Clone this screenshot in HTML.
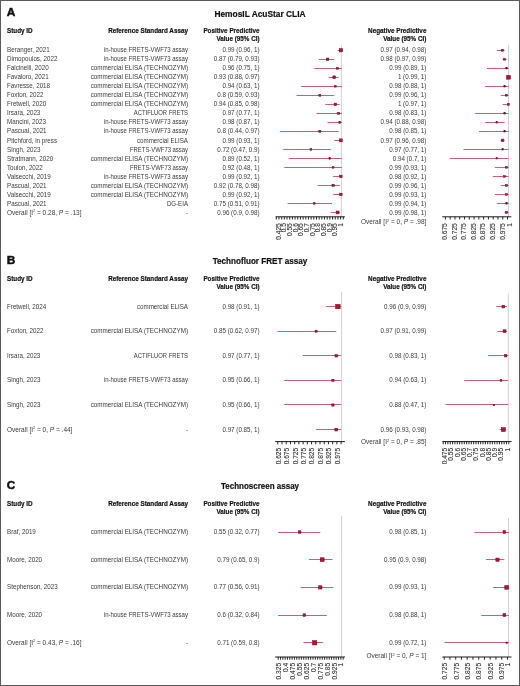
<!DOCTYPE html>
<html><head><meta charset="utf-8"><title>Forest plots</title>
<style>
html,body{margin:0;padding:0;background:#fff;}
body{width:520px;height:686px;overflow:hidden;}
.frame{position:absolute;left:0;top:0;width:518px;height:684px;border:1px solid #5a5a5a;background:#fff;}
svg{position:absolute;left:0;top:0;font-family:"Liberation Sans", sans-serif;will-change:transform;}
</style></head>
<body>
<div class="frame"></div>
<svg width="520" height="686" viewBox="0 0 520 686">
<text transform="translate(6.70,16.20) scale(1.12,1)" font-size="10.6" text-anchor="start" font-weight="bold" fill="#111" stroke="#111" stroke-width="0.45">A</text>
<text transform="translate(260.00,16.60) scale(1.0,1)" font-size="9.0" text-anchor="middle" font-weight="bold" fill="#111" stroke="#111" stroke-width="0.2" textLength="91.20" lengthAdjust="spacingAndGlyphs">HemosIL AcuStar CLIA</text>
<text transform="translate(7.00,32.70) scale(0.96,1)" font-size="6.6" text-anchor="start" font-weight="bold" fill="#111"  stroke="#111" stroke-width="0.18">Study ID</text>
<text transform="translate(188.00,32.70) scale(0.96,1)" font-size="6.6" text-anchor="end" font-weight="bold" fill="#111"  stroke="#111" stroke-width="0.18">Reference Standard Assay</text>
<text transform="translate(259.60,33.00) scale(0.96,1)" font-size="6.6" text-anchor="end" font-weight="bold" fill="#111"  stroke="#111" stroke-width="0.18">Positive Predictive</text>
<text transform="translate(259.60,40.80) scale(0.96,1)" font-size="6.6" text-anchor="end" font-weight="bold" fill="#111"  stroke="#111" stroke-width="0.18">Value (95% CI)</text>
<text transform="translate(426.40,33.00) scale(0.96,1)" font-size="6.6" text-anchor="end" font-weight="bold" fill="#111"  stroke="#111" stroke-width="0.18">Negative Predictive</text>
<text transform="translate(426.40,40.80) scale(0.96,1)" font-size="6.6" text-anchor="end" font-weight="bold" fill="#111"  stroke="#111" stroke-width="0.18">Value (95% CI)</text>
<text transform="translate(7.00,52.40) scale(0.935,1)" font-size="6.7" text-anchor="start" font-weight="normal" fill="#3a3a3a" >Beranger, 2021</text>
<text transform="translate(188.00,52.40) scale(0.935,1)" font-size="6.7" text-anchor="end" font-weight="normal" fill="#3a3a3a"  textLength="90.05" lengthAdjust="spacingAndGlyphs">in-house FRETS-VWF73 assay</text>
<text transform="translate(259.60,52.40) scale(0.935,1)" font-size="6.7" text-anchor="end" font-weight="normal" fill="#3a3a3a" >0.99 (0.96, 1)</text>
<text transform="translate(426.40,52.40) scale(0.935,1)" font-size="6.7" text-anchor="end" font-weight="normal" fill="#3a3a3a" >0.97 (0.94, 0.98)</text>
<text transform="translate(7.00,61.41) scale(0.935,1)" font-size="6.7" text-anchor="start" font-weight="normal" fill="#3a3a3a" >Dimopoulos, 2022</text>
<text transform="translate(188.00,61.41) scale(0.935,1)" font-size="6.7" text-anchor="end" font-weight="normal" fill="#3a3a3a"  textLength="90.05" lengthAdjust="spacingAndGlyphs">in-house FRETS-VWF73 assay</text>
<text transform="translate(259.60,61.41) scale(0.935,1)" font-size="6.7" text-anchor="end" font-weight="normal" fill="#3a3a3a" >0.87 (0.79, 0.93)</text>
<text transform="translate(426.40,61.41) scale(0.935,1)" font-size="6.7" text-anchor="end" font-weight="normal" fill="#3a3a3a" >0.98 (0.97, 0.99)</text>
<text transform="translate(7.00,70.42) scale(0.935,1)" font-size="6.7" text-anchor="start" font-weight="normal" fill="#3a3a3a" >Falcinelli, 2020</text>
<text transform="translate(188.00,70.42) scale(0.935,1)" font-size="6.7" text-anchor="end" font-weight="normal" fill="#3a3a3a"  textLength="104.06" lengthAdjust="spacingAndGlyphs">commercial ELISA (TECHNOZYM)</text>
<text transform="translate(259.60,70.42) scale(0.935,1)" font-size="6.7" text-anchor="end" font-weight="normal" fill="#3a3a3a" >0.96 (0.75, 1)</text>
<text transform="translate(426.40,70.42) scale(0.935,1)" font-size="6.7" text-anchor="end" font-weight="normal" fill="#3a3a3a" >0.99 (0.89, 1)</text>
<text transform="translate(7.00,79.43) scale(0.935,1)" font-size="6.7" text-anchor="start" font-weight="normal" fill="#3a3a3a" >Favaloro, 2021</text>
<text transform="translate(188.00,79.43) scale(0.935,1)" font-size="6.7" text-anchor="end" font-weight="normal" fill="#3a3a3a"  textLength="104.06" lengthAdjust="spacingAndGlyphs">commercial ELISA (TECHNOZYM)</text>
<text transform="translate(259.60,79.43) scale(0.935,1)" font-size="6.7" text-anchor="end" font-weight="normal" fill="#3a3a3a" >0.93 (0.88, 0.97)</text>
<text transform="translate(426.40,79.43) scale(0.935,1)" font-size="6.7" text-anchor="end" font-weight="normal" fill="#3a3a3a" >1 (0.99, 1)</text>
<text transform="translate(7.00,88.44) scale(0.935,1)" font-size="6.7" text-anchor="start" font-weight="normal" fill="#3a3a3a" >Favresse, 2018</text>
<text transform="translate(188.00,88.44) scale(0.935,1)" font-size="6.7" text-anchor="end" font-weight="normal" fill="#3a3a3a"  textLength="104.06" lengthAdjust="spacingAndGlyphs">commercial ELISA (TECHNOZYM)</text>
<text transform="translate(259.60,88.44) scale(0.935,1)" font-size="6.7" text-anchor="end" font-weight="normal" fill="#3a3a3a" >0.94 (0.63, 1)</text>
<text transform="translate(426.40,88.44) scale(0.935,1)" font-size="6.7" text-anchor="end" font-weight="normal" fill="#3a3a3a" >0.98 (0.88, 1)</text>
<text transform="translate(7.00,97.45) scale(0.935,1)" font-size="6.7" text-anchor="start" font-weight="normal" fill="#3a3a3a" >Foxton, 2022</text>
<text transform="translate(188.00,97.45) scale(0.935,1)" font-size="6.7" text-anchor="end" font-weight="normal" fill="#3a3a3a"  textLength="104.06" lengthAdjust="spacingAndGlyphs">commercial ELISA (TECHNOZYM)</text>
<text transform="translate(259.60,97.45) scale(0.935,1)" font-size="6.7" text-anchor="end" font-weight="normal" fill="#3a3a3a" >0.8 (0.59, 0.93)</text>
<text transform="translate(426.40,97.45) scale(0.935,1)" font-size="6.7" text-anchor="end" font-weight="normal" fill="#3a3a3a" >0.99 (0.96, 1)</text>
<text transform="translate(7.00,106.46) scale(0.935,1)" font-size="6.7" text-anchor="start" font-weight="normal" fill="#3a3a3a" >Fretwell, 2020</text>
<text transform="translate(188.00,106.46) scale(0.935,1)" font-size="6.7" text-anchor="end" font-weight="normal" fill="#3a3a3a"  textLength="104.06" lengthAdjust="spacingAndGlyphs">commercial ELISA (TECHNOZYM)</text>
<text transform="translate(259.60,106.46) scale(0.935,1)" font-size="6.7" text-anchor="end" font-weight="normal" fill="#3a3a3a" >0.94 (0.85, 0.98)</text>
<text transform="translate(426.40,106.46) scale(0.935,1)" font-size="6.7" text-anchor="end" font-weight="normal" fill="#3a3a3a" >1 (0.97, 1)</text>
<text transform="translate(7.00,115.47) scale(0.935,1)" font-size="6.7" text-anchor="start" font-weight="normal" fill="#3a3a3a" >Irsara, 2023</text>
<text transform="translate(188.00,115.47) scale(0.935,1)" font-size="6.7" text-anchor="end" font-weight="normal" fill="#3a3a3a"  textLength="57.97" lengthAdjust="spacingAndGlyphs">ACTIFLUOR FRETS</text>
<text transform="translate(259.60,115.47) scale(0.935,1)" font-size="6.7" text-anchor="end" font-weight="normal" fill="#3a3a3a" >0.97 (0.77, 1)</text>
<text transform="translate(426.40,115.47) scale(0.935,1)" font-size="6.7" text-anchor="end" font-weight="normal" fill="#3a3a3a" >0.98 (0.83, 1)</text>
<text transform="translate(7.00,124.48) scale(0.935,1)" font-size="6.7" text-anchor="start" font-weight="normal" fill="#3a3a3a" >Mancini, 2023</text>
<text transform="translate(188.00,124.48) scale(0.935,1)" font-size="6.7" text-anchor="end" font-weight="normal" fill="#3a3a3a"  textLength="90.05" lengthAdjust="spacingAndGlyphs">in-house FRETS-VWF73 assay</text>
<text transform="translate(259.60,124.48) scale(0.935,1)" font-size="6.7" text-anchor="end" font-weight="normal" fill="#3a3a3a" >0.98 (0.87, 1)</text>
<text transform="translate(426.40,124.48) scale(0.935,1)" font-size="6.7" text-anchor="end" font-weight="normal" fill="#3a3a3a" >0.94 (0.88, 0.98)</text>
<text transform="translate(7.00,133.49) scale(0.935,1)" font-size="6.7" text-anchor="start" font-weight="normal" fill="#3a3a3a" >Pascual, 2021</text>
<text transform="translate(188.00,133.49) scale(0.935,1)" font-size="6.7" text-anchor="end" font-weight="normal" fill="#3a3a3a"  textLength="90.05" lengthAdjust="spacingAndGlyphs">in-house FRETS-VWF73 assay</text>
<text transform="translate(259.60,133.49) scale(0.935,1)" font-size="6.7" text-anchor="end" font-weight="normal" fill="#3a3a3a" >0.8 (0.44, 0.97)</text>
<text transform="translate(426.40,133.49) scale(0.935,1)" font-size="6.7" text-anchor="end" font-weight="normal" fill="#3a3a3a" >0.98 (0.85, 1)</text>
<text transform="translate(7.00,142.50) scale(0.935,1)" font-size="6.7" text-anchor="start" font-weight="normal" fill="#3a3a3a" >Pitchford, in press</text>
<text transform="translate(188.00,142.50) scale(0.935,1)" font-size="6.7" text-anchor="end" font-weight="normal" fill="#3a3a3a"  textLength="54.65" lengthAdjust="spacingAndGlyphs">commercial ELISA</text>
<text transform="translate(259.60,142.50) scale(0.935,1)" font-size="6.7" text-anchor="end" font-weight="normal" fill="#3a3a3a" >0.99 (0.93, 1)</text>
<text transform="translate(426.40,142.50) scale(0.935,1)" font-size="6.7" text-anchor="end" font-weight="normal" fill="#3a3a3a" >0.97 (0.96, 0.98)</text>
<text transform="translate(7.00,151.51) scale(0.935,1)" font-size="6.7" text-anchor="start" font-weight="normal" fill="#3a3a3a" >Singh, 2023</text>
<text transform="translate(188.00,151.51) scale(0.935,1)" font-size="6.7" text-anchor="end" font-weight="normal" fill="#3a3a3a"  textLength="62.03" lengthAdjust="spacingAndGlyphs">FRETS-VWF73 assay</text>
<text transform="translate(259.60,151.51) scale(0.935,1)" font-size="6.7" text-anchor="end" font-weight="normal" fill="#3a3a3a" >0.72 (0.47, 0.9)</text>
<text transform="translate(426.40,151.51) scale(0.935,1)" font-size="6.7" text-anchor="end" font-weight="normal" fill="#3a3a3a" >0.97 (0.77, 1)</text>
<text transform="translate(7.00,160.52) scale(0.935,1)" font-size="6.7" text-anchor="start" font-weight="normal" fill="#3a3a3a" >Stratmann, 2020</text>
<text transform="translate(188.00,160.52) scale(0.935,1)" font-size="6.7" text-anchor="end" font-weight="normal" fill="#3a3a3a"  textLength="104.06" lengthAdjust="spacingAndGlyphs">commercial ELISA (TECHNOZYM)</text>
<text transform="translate(259.60,160.52) scale(0.935,1)" font-size="6.7" text-anchor="end" font-weight="normal" fill="#3a3a3a" >0.89 (0.52, 1)</text>
<text transform="translate(426.40,160.52) scale(0.935,1)" font-size="6.7" text-anchor="end" font-weight="normal" fill="#3a3a3a" >0.94 (0.7, 1)</text>
<text transform="translate(7.00,169.53) scale(0.935,1)" font-size="6.7" text-anchor="start" font-weight="normal" fill="#3a3a3a" >Toulon, 2022</text>
<text transform="translate(188.00,169.53) scale(0.935,1)" font-size="6.7" text-anchor="end" font-weight="normal" fill="#3a3a3a"  textLength="62.03" lengthAdjust="spacingAndGlyphs">FRETS-VWF73 assay</text>
<text transform="translate(259.60,169.53) scale(0.935,1)" font-size="6.7" text-anchor="end" font-weight="normal" fill="#3a3a3a" >0.92 (0.48, 1)</text>
<text transform="translate(426.40,169.53) scale(0.935,1)" font-size="6.7" text-anchor="end" font-weight="normal" fill="#3a3a3a" >0.99 (0.93, 1)</text>
<text transform="translate(7.00,178.54) scale(0.935,1)" font-size="6.7" text-anchor="start" font-weight="normal" fill="#3a3a3a" >Valsecchi, 2019</text>
<text transform="translate(188.00,178.54) scale(0.935,1)" font-size="6.7" text-anchor="end" font-weight="normal" fill="#3a3a3a"  textLength="90.05" lengthAdjust="spacingAndGlyphs">in-house FRETS-VWF73 assay</text>
<text transform="translate(259.60,178.54) scale(0.935,1)" font-size="6.7" text-anchor="end" font-weight="normal" fill="#3a3a3a" >0.99 (0.92, 1)</text>
<text transform="translate(426.40,178.54) scale(0.935,1)" font-size="6.7" text-anchor="end" font-weight="normal" fill="#3a3a3a" >0.98 (0.92, 1)</text>
<text transform="translate(7.00,187.55) scale(0.935,1)" font-size="6.7" text-anchor="start" font-weight="normal" fill="#3a3a3a" >Pascual, 2021</text>
<text transform="translate(188.00,187.55) scale(0.935,1)" font-size="6.7" text-anchor="end" font-weight="normal" fill="#3a3a3a"  textLength="104.06" lengthAdjust="spacingAndGlyphs">commercial ELISA (TECHNOZYM)</text>
<text transform="translate(259.60,187.55) scale(0.935,1)" font-size="6.7" text-anchor="end" font-weight="normal" fill="#3a3a3a" >0.92 (0.78, 0.98)</text>
<text transform="translate(426.40,187.55) scale(0.935,1)" font-size="6.7" text-anchor="end" font-weight="normal" fill="#3a3a3a" >0.99 (0.96, 1)</text>
<text transform="translate(7.00,196.56) scale(0.935,1)" font-size="6.7" text-anchor="start" font-weight="normal" fill="#3a3a3a" >Valsecchi, 2019</text>
<text transform="translate(188.00,196.56) scale(0.935,1)" font-size="6.7" text-anchor="end" font-weight="normal" fill="#3a3a3a"  textLength="104.06" lengthAdjust="spacingAndGlyphs">commercial ELISA (TECHNOZYM)</text>
<text transform="translate(259.60,196.56) scale(0.935,1)" font-size="6.7" text-anchor="end" font-weight="normal" fill="#3a3a3a" >0.99 (0.92, 1)</text>
<text transform="translate(426.40,196.56) scale(0.935,1)" font-size="6.7" text-anchor="end" font-weight="normal" fill="#3a3a3a" >0.99 (0.93, 1)</text>
<text transform="translate(7.00,205.57) scale(0.935,1)" font-size="6.7" text-anchor="start" font-weight="normal" fill="#3a3a3a" >Pascual, 2021</text>
<text transform="translate(188.00,205.57) scale(0.935,1)" font-size="6.7" text-anchor="end" font-weight="normal" fill="#3a3a3a"  textLength="22.57" lengthAdjust="spacingAndGlyphs">DG-EIA</text>
<text transform="translate(259.60,205.57) scale(0.935,1)" font-size="6.7" text-anchor="end" font-weight="normal" fill="#3a3a3a" >0.75 (0.51, 0.91)</text>
<text transform="translate(426.40,205.57) scale(0.935,1)" font-size="6.7" text-anchor="end" font-weight="normal" fill="#3a3a3a" >0.99 (0.94, 1)</text>
<text transform="translate(7.00,214.58) scale(0.972,1)" font-size="6.7" text-anchor="start" font-weight="normal" fill="#3a3a3a" >Overall [I<tspan font-size="4.02" dy="-2.4">2</tspan><tspan dy="2.4"> = 0.28, </tspan><tspan font-style="italic">P</tspan> = .13]</text>
<text transform="translate(188.00,214.58) scale(0.935,1)" font-size="6.7" text-anchor="end" font-weight="normal" fill="#3a3a3a" >-</text>
<text transform="translate(259.60,214.58) scale(0.935,1)" font-size="6.7" text-anchor="end" font-weight="normal" fill="#3a3a3a" >0.96 (0.9, 0.98)</text>
<text transform="translate(426.40,214.58) scale(0.935,1)" font-size="6.7" text-anchor="end" font-weight="normal" fill="#3a3a3a" >0.99 (0.98, 1)</text>
<text transform="translate(426.40,223.98) scale(0.972,1)" font-size="6.7" text-anchor="end" font-weight="normal" fill="#3a3a3a" >Overall [I<tspan font-size="4.02" dy="-2.4">2</tspan><tspan dy="2.4"> = 0, </tspan><tspan font-style="italic">P</tspan> = .98]</text>
<line x1="341.40" y1="45.00" x2="341.40" y2="216.80" stroke="#c6c6c6" stroke-width="0.8"/>
<line x1="337.56" y1="50.50" x2="342.00" y2="50.50" stroke="#c8607a" stroke-width="1.0"/>
<rect x="339.24" y="48.60" width="3.30" height="3.30" fill="#b8102f" stroke="#6e0a22" stroke-width="0.5"/>
<line x1="318.69" y1="59.50" x2="334.23" y2="59.50" stroke="#c8607a" stroke-width="1.0"/>
<rect x="326.32" y="58.01" width="2.50" height="2.50" fill="#b8102f" stroke="#6e0a22" stroke-width="0.5"/>
<line x1="314.25" y1="68.50" x2="342.00" y2="68.50" stroke="#c8607a" stroke-width="1.0"/>
<rect x="336.56" y="67.27" width="2.00" height="2.00" fill="#b8102f" stroke="#6e0a22" stroke-width="0.5"/>
<line x1="328.68" y1="77.50" x2="338.67" y2="77.50" stroke="#c8607a" stroke-width="1.0"/>
<rect x="332.83" y="75.88" width="2.80" height="2.80" fill="#b8102f" stroke="#6e0a22" stroke-width="0.5"/>
<line x1="300.93" y1="86.50" x2="342.00" y2="86.50" stroke="#c8607a" stroke-width="1.0"/>
<rect x="334.49" y="85.44" width="1.70" height="1.70" fill="#b8102f" stroke="#6e0a22" stroke-width="0.5"/>
<line x1="296.49" y1="95.50" x2="334.23" y2="95.50" stroke="#c8607a" stroke-width="1.0"/>
<rect x="318.85" y="94.35" width="1.90" height="1.90" fill="#b8102f" stroke="#6e0a22" stroke-width="0.5"/>
<line x1="325.35" y1="104.50" x2="339.78" y2="104.50" stroke="#c8607a" stroke-width="1.0"/>
<rect x="334.09" y="103.06" width="2.50" height="2.50" fill="#b8102f" stroke="#6e0a22" stroke-width="0.5"/>
<line x1="316.47" y1="113.50" x2="342.00" y2="113.50" stroke="#c8607a" stroke-width="1.0"/>
<rect x="337.67" y="112.32" width="2.00" height="2.00" fill="#b8102f" stroke="#6e0a22" stroke-width="0.5"/>
<line x1="327.57" y1="122.50" x2="342.00" y2="122.50" stroke="#c8607a" stroke-width="1.0"/>
<rect x="338.88" y="121.43" width="1.80" height="1.80" fill="#b8102f" stroke="#6e0a22" stroke-width="0.5"/>
<line x1="279.84" y1="131.50" x2="338.67" y2="131.50" stroke="#c8607a" stroke-width="1.0"/>
<rect x="318.75" y="130.29" width="2.10" height="2.10" fill="#b8102f" stroke="#6e0a22" stroke-width="0.5"/>
<line x1="334.23" y1="140.50" x2="342.00" y2="140.50" stroke="#c8607a" stroke-width="1.0"/>
<rect x="339.44" y="138.90" width="2.90" height="2.90" fill="#b8102f" stroke="#6e0a22" stroke-width="0.5"/>
<line x1="283.17" y1="149.50" x2="330.90" y2="149.50" stroke="#c8607a" stroke-width="1.0"/>
<rect x="310.07" y="148.51" width="1.70" height="1.70" fill="#b8102f" stroke="#6e0a22" stroke-width="0.5"/>
<line x1="288.72" y1="158.50" x2="342.00" y2="158.50" stroke="#c8607a" stroke-width="1.0"/>
<rect x="328.94" y="157.52" width="1.70" height="1.70" fill="#b8102f" stroke="#6e0a22" stroke-width="0.5"/>
<line x1="284.28" y1="167.50" x2="342.00" y2="167.50" stroke="#c8607a" stroke-width="1.0"/>
<rect x="332.27" y="166.53" width="1.70" height="1.70" fill="#b8102f" stroke="#6e0a22" stroke-width="0.5"/>
<line x1="333.12" y1="176.50" x2="342.00" y2="176.50" stroke="#c8607a" stroke-width="1.0"/>
<rect x="339.64" y="175.14" width="2.50" height="2.50" fill="#b8102f" stroke="#6e0a22" stroke-width="0.5"/>
<line x1="317.58" y1="185.50" x2="339.78" y2="185.50" stroke="#c8607a" stroke-width="1.0"/>
<rect x="331.97" y="184.25" width="2.30" height="2.30" fill="#b8102f" stroke="#6e0a22" stroke-width="0.5"/>
<line x1="333.12" y1="194.50" x2="342.00" y2="194.50" stroke="#c8607a" stroke-width="1.0"/>
<rect x="339.64" y="193.16" width="2.50" height="2.50" fill="#b8102f" stroke="#6e0a22" stroke-width="0.5"/>
<line x1="287.61" y1="203.50" x2="332.01" y2="203.50" stroke="#c8607a" stroke-width="1.0"/>
<rect x="313.40" y="202.57" width="1.70" height="1.70" fill="#b8102f" stroke="#6e0a22" stroke-width="0.5"/>
<line x1="330.90" y1="212.50" x2="339.78" y2="212.50" stroke="#c8607a" stroke-width="1.0"/>
<rect x="336.11" y="210.98" width="2.90" height="2.90" fill="#b8102f" stroke="#6e0a22" stroke-width="0.5"/>
<line x1="508.50" y1="45.00" x2="508.50" y2="216.80" stroke="#c6c6c6" stroke-width="0.8"/>
<line x1="496.75" y1="50.50" x2="504.58" y2="50.50" stroke="#c8607a" stroke-width="1.0"/>
<rect x="501.62" y="49.25" width="2.00" height="2.00" fill="#b8102f" stroke="#6e0a22" stroke-width="0.5"/>
<line x1="502.62" y1="59.50" x2="506.54" y2="59.50" stroke="#c8607a" stroke-width="1.0"/>
<rect x="503.68" y="58.36" width="1.80" height="1.80" fill="#b8102f" stroke="#6e0a22" stroke-width="0.5"/>
<line x1="486.95" y1="68.50" x2="508.50" y2="68.50" stroke="#c8607a" stroke-width="1.0"/>
<rect x="505.79" y="67.52" width="1.50" height="1.50" fill="#b8102f" stroke="#6e0a22" stroke-width="0.5"/>
<line x1="506.54" y1="77.50" x2="508.50" y2="77.50" stroke="#c8607a" stroke-width="1.0"/>
<rect x="506.60" y="75.38" width="3.80" height="3.80" fill="#b8102f" stroke="#6e0a22" stroke-width="0.5"/>
<line x1="484.99" y1="86.50" x2="508.50" y2="86.50" stroke="#c8607a" stroke-width="1.0"/>
<rect x="503.83" y="85.54" width="1.50" height="1.50" fill="#b8102f" stroke="#6e0a22" stroke-width="0.5"/>
<line x1="500.66" y1="95.50" x2="508.50" y2="95.50" stroke="#c8607a" stroke-width="1.0"/>
<rect x="505.69" y="94.45" width="1.70" height="1.70" fill="#b8102f" stroke="#6e0a22" stroke-width="0.5"/>
<line x1="502.62" y1="104.50" x2="508.50" y2="104.50" stroke="#c8607a" stroke-width="1.0"/>
<rect x="507.55" y="103.36" width="1.90" height="1.90" fill="#b8102f" stroke="#6e0a22" stroke-width="0.5"/>
<line x1="475.20" y1="113.50" x2="508.50" y2="113.50" stroke="#c8607a" stroke-width="1.0"/>
<rect x="503.83" y="112.57" width="1.50" height="1.50" fill="#b8102f" stroke="#6e0a22" stroke-width="0.5"/>
<line x1="484.99" y1="122.50" x2="504.58" y2="122.50" stroke="#c8607a" stroke-width="1.0"/>
<rect x="496.00" y="121.58" width="1.50" height="1.50" fill="#b8102f" stroke="#6e0a22" stroke-width="0.5"/>
<line x1="479.12" y1="131.50" x2="508.50" y2="131.50" stroke="#c8607a" stroke-width="1.0"/>
<rect x="503.88" y="130.64" width="1.40" height="1.40" fill="#b8102f" stroke="#6e0a22" stroke-width="0.5"/>
<line x1="500.66" y1="140.50" x2="504.58" y2="140.50" stroke="#c8607a" stroke-width="1.0"/>
<rect x="501.37" y="139.10" width="2.50" height="2.50" fill="#b8102f" stroke="#6e0a22" stroke-width="0.5"/>
<line x1="463.44" y1="149.50" x2="508.50" y2="149.50" stroke="#c8607a" stroke-width="1.0"/>
<rect x="501.97" y="148.71" width="1.30" height="1.30" fill="#b8102f" stroke="#6e0a22" stroke-width="0.5"/>
<line x1="449.73" y1="158.50" x2="508.50" y2="158.50" stroke="#c8607a" stroke-width="1.0"/>
<rect x="496.10" y="157.72" width="1.30" height="1.30" fill="#b8102f" stroke="#6e0a22" stroke-width="0.5"/>
<line x1="494.79" y1="167.50" x2="508.50" y2="167.50" stroke="#c8607a" stroke-width="1.0"/>
<rect x="505.69" y="166.53" width="1.70" height="1.70" fill="#b8102f" stroke="#6e0a22" stroke-width="0.5"/>
<line x1="492.83" y1="176.50" x2="508.50" y2="176.50" stroke="#c8607a" stroke-width="1.0"/>
<rect x="503.73" y="175.54" width="1.70" height="1.70" fill="#b8102f" stroke="#6e0a22" stroke-width="0.5"/>
<line x1="500.66" y1="185.50" x2="508.50" y2="185.50" stroke="#c8607a" stroke-width="1.0"/>
<rect x="505.59" y="184.45" width="1.90" height="1.90" fill="#b8102f" stroke="#6e0a22" stroke-width="0.5"/>
<line x1="494.79" y1="194.50" x2="508.50" y2="194.50" stroke="#c8607a" stroke-width="1.0"/>
<rect x="505.69" y="193.56" width="1.70" height="1.70" fill="#b8102f" stroke="#6e0a22" stroke-width="0.5"/>
<line x1="496.75" y1="203.50" x2="508.50" y2="203.50" stroke="#c8607a" stroke-width="1.0"/>
<rect x="505.79" y="202.67" width="1.50" height="1.50" fill="#b8102f" stroke="#6e0a22" stroke-width="0.5"/>
<line x1="504.58" y1="212.50" x2="508.50" y2="212.50" stroke="#c8607a" stroke-width="1.0"/>
<rect x="505.54" y="211.43" width="2.00" height="2.00" fill="#b8102f" stroke="#6e0a22" stroke-width="0.5"/>
<line x1="275.60" y1="216.80" x2="344.90" y2="216.80" stroke="#1a1a1a" stroke-width="1"/>
<line x1="276.30" y1="216.80" x2="276.30" y2="219.50" stroke="#1a1a1a" stroke-width="0.95"/>
<line x1="278.98" y1="216.80" x2="278.98" y2="219.50" stroke="#1a1a1a" stroke-width="0.95"/>
<line x1="281.66" y1="216.80" x2="281.66" y2="219.50" stroke="#1a1a1a" stroke-width="0.95"/>
<line x1="284.34" y1="216.80" x2="284.34" y2="219.50" stroke="#1a1a1a" stroke-width="0.95"/>
<line x1="287.02" y1="216.80" x2="287.02" y2="219.50" stroke="#1a1a1a" stroke-width="0.95"/>
<line x1="289.70" y1="216.80" x2="289.70" y2="219.50" stroke="#1a1a1a" stroke-width="0.95"/>
<line x1="292.38" y1="216.80" x2="292.38" y2="219.50" stroke="#1a1a1a" stroke-width="0.95"/>
<line x1="295.06" y1="216.80" x2="295.06" y2="219.50" stroke="#1a1a1a" stroke-width="0.95"/>
<line x1="297.74" y1="216.80" x2="297.74" y2="219.50" stroke="#1a1a1a" stroke-width="0.95"/>
<line x1="300.42" y1="216.80" x2="300.42" y2="219.50" stroke="#1a1a1a" stroke-width="0.95"/>
<line x1="303.10" y1="216.80" x2="303.10" y2="219.50" stroke="#1a1a1a" stroke-width="0.95"/>
<line x1="305.78" y1="216.80" x2="305.78" y2="219.50" stroke="#1a1a1a" stroke-width="0.95"/>
<line x1="308.46" y1="216.80" x2="308.46" y2="219.50" stroke="#1a1a1a" stroke-width="0.95"/>
<line x1="311.14" y1="216.80" x2="311.14" y2="219.50" stroke="#1a1a1a" stroke-width="0.95"/>
<line x1="313.82" y1="216.80" x2="313.82" y2="219.50" stroke="#1a1a1a" stroke-width="0.95"/>
<line x1="316.50" y1="216.80" x2="316.50" y2="219.50" stroke="#1a1a1a" stroke-width="0.95"/>
<line x1="319.18" y1="216.80" x2="319.18" y2="219.50" stroke="#1a1a1a" stroke-width="0.95"/>
<line x1="321.86" y1="216.80" x2="321.86" y2="219.50" stroke="#1a1a1a" stroke-width="0.95"/>
<line x1="324.54" y1="216.80" x2="324.54" y2="219.50" stroke="#1a1a1a" stroke-width="0.95"/>
<line x1="327.22" y1="216.80" x2="327.22" y2="219.50" stroke="#1a1a1a" stroke-width="0.95"/>
<line x1="329.90" y1="216.80" x2="329.90" y2="219.50" stroke="#1a1a1a" stroke-width="0.95"/>
<line x1="332.58" y1="216.80" x2="332.58" y2="219.50" stroke="#1a1a1a" stroke-width="0.95"/>
<line x1="335.26" y1="216.80" x2="335.26" y2="219.50" stroke="#1a1a1a" stroke-width="0.95"/>
<line x1="337.94" y1="216.80" x2="337.94" y2="219.50" stroke="#1a1a1a" stroke-width="0.95"/>
<line x1="340.62" y1="216.80" x2="340.62" y2="219.50" stroke="#1a1a1a" stroke-width="0.95"/>
<line x1="343.30" y1="216.80" x2="343.30" y2="219.50" stroke="#1a1a1a" stroke-width="0.95"/>
<text transform="translate(280.58,223.20) rotate(-90) scale(1,1.0)" font-size="6.6" text-anchor="end" fill="#2a2a2a" stroke="#2a2a2a" stroke-width="0.08">0.425</text>
<text transform="translate(286.26,223.20) rotate(-90) scale(1,1.0)" font-size="6.6" text-anchor="end" fill="#2a2a2a" stroke="#2a2a2a" stroke-width="0.08">0.5</text>
<text transform="translate(291.94,223.20) rotate(-90) scale(1,1.0)" font-size="6.6" text-anchor="end" fill="#2a2a2a" stroke="#2a2a2a" stroke-width="0.08">0.55</text>
<text transform="translate(297.62,223.20) rotate(-90) scale(1,1.0)" font-size="6.6" text-anchor="end" fill="#2a2a2a" stroke="#2a2a2a" stroke-width="0.08">0.6</text>
<text transform="translate(303.30,223.20) rotate(-90) scale(1,1.0)" font-size="6.6" text-anchor="end" fill="#2a2a2a" stroke="#2a2a2a" stroke-width="0.08">0.65</text>
<text transform="translate(308.99,223.20) rotate(-90) scale(1,1.0)" font-size="6.6" text-anchor="end" fill="#2a2a2a" stroke="#2a2a2a" stroke-width="0.08">0.7</text>
<text transform="translate(314.67,223.20) rotate(-90) scale(1,1.0)" font-size="6.6" text-anchor="end" fill="#2a2a2a" stroke="#2a2a2a" stroke-width="0.08">0.75</text>
<text transform="translate(320.35,223.20) rotate(-90) scale(1,1.0)" font-size="6.6" text-anchor="end" fill="#2a2a2a" stroke="#2a2a2a" stroke-width="0.08">0.8</text>
<text transform="translate(326.03,223.20) rotate(-90) scale(1,1.0)" font-size="6.6" text-anchor="end" fill="#2a2a2a" stroke="#2a2a2a" stroke-width="0.08">0.85</text>
<text transform="translate(331.71,223.20) rotate(-90) scale(1,1.0)" font-size="6.6" text-anchor="end" fill="#2a2a2a" stroke="#2a2a2a" stroke-width="0.08">0.9</text>
<text transform="translate(337.39,223.20) rotate(-90) scale(1,1.0)" font-size="6.6" text-anchor="end" fill="#2a2a2a" stroke="#2a2a2a" stroke-width="0.08">0.95</text>
<text transform="translate(343.08,223.20) rotate(-90) scale(1,1.0)" font-size="6.6" text-anchor="end" fill="#2a2a2a" stroke="#2a2a2a" stroke-width="0.08">1</text>
<line x1="442.20" y1="216.80" x2="511.30" y2="216.80" stroke="#1a1a1a" stroke-width="1"/>
<line x1="445.40" y1="216.80" x2="445.40" y2="219.50" stroke="#1a1a1a" stroke-width="0.95"/>
<line x1="450.18" y1="216.80" x2="450.18" y2="219.50" stroke="#1a1a1a" stroke-width="0.95"/>
<line x1="454.96" y1="216.80" x2="454.96" y2="219.50" stroke="#1a1a1a" stroke-width="0.95"/>
<line x1="459.74" y1="216.80" x2="459.74" y2="219.50" stroke="#1a1a1a" stroke-width="0.95"/>
<line x1="464.52" y1="216.80" x2="464.52" y2="219.50" stroke="#1a1a1a" stroke-width="0.95"/>
<line x1="469.30" y1="216.80" x2="469.30" y2="219.50" stroke="#1a1a1a" stroke-width="0.95"/>
<line x1="474.08" y1="216.80" x2="474.08" y2="219.50" stroke="#1a1a1a" stroke-width="0.95"/>
<line x1="478.86" y1="216.80" x2="478.86" y2="219.50" stroke="#1a1a1a" stroke-width="0.95"/>
<line x1="483.64" y1="216.80" x2="483.64" y2="219.50" stroke="#1a1a1a" stroke-width="0.95"/>
<line x1="488.42" y1="216.80" x2="488.42" y2="219.50" stroke="#1a1a1a" stroke-width="0.95"/>
<line x1="493.20" y1="216.80" x2="493.20" y2="219.50" stroke="#1a1a1a" stroke-width="0.95"/>
<line x1="497.98" y1="216.80" x2="497.98" y2="219.50" stroke="#1a1a1a" stroke-width="0.95"/>
<line x1="502.76" y1="216.80" x2="502.76" y2="219.50" stroke="#1a1a1a" stroke-width="0.95"/>
<line x1="507.54" y1="216.80" x2="507.54" y2="219.50" stroke="#1a1a1a" stroke-width="0.95"/>
<text transform="translate(446.78,223.20) rotate(-90) scale(1,1.0)" font-size="6.6" text-anchor="end" fill="#2a2a2a" stroke="#2a2a2a" stroke-width="0.08">0.675</text>
<text transform="translate(456.58,223.20) rotate(-90) scale(1,1.0)" font-size="6.6" text-anchor="end" fill="#2a2a2a" stroke="#2a2a2a" stroke-width="0.08">0.725</text>
<text transform="translate(466.18,223.20) rotate(-90) scale(1,1.0)" font-size="6.6" text-anchor="end" fill="#2a2a2a" stroke="#2a2a2a" stroke-width="0.08">0.775</text>
<text transform="translate(475.88,223.20) rotate(-90) scale(1,1.0)" font-size="6.6" text-anchor="end" fill="#2a2a2a" stroke="#2a2a2a" stroke-width="0.08">0.825</text>
<text transform="translate(485.48,223.20) rotate(-90) scale(1,1.0)" font-size="6.6" text-anchor="end" fill="#2a2a2a" stroke="#2a2a2a" stroke-width="0.08">0.875</text>
<text transform="translate(495.48,223.20) rotate(-90) scale(1,1.0)" font-size="6.6" text-anchor="end" fill="#2a2a2a" stroke="#2a2a2a" stroke-width="0.08">0.925</text>
<text transform="translate(504.68,223.20) rotate(-90) scale(1,1.0)" font-size="6.6" text-anchor="end" fill="#2a2a2a" stroke="#2a2a2a" stroke-width="0.08">0.975</text>
<text transform="translate(511.68,223.20) rotate(-90) scale(1,1.0)" font-size="6.6" text-anchor="end" fill="#2a2a2a" stroke="#2a2a2a" stroke-width="0.08">1</text>
<text transform="translate(6.70,263.80) scale(1.12,1)" font-size="10.6" text-anchor="start" font-weight="bold" fill="#111" stroke="#111" stroke-width="0.45">B</text>
<text transform="translate(260.00,264.30) scale(1.0,1)" font-size="9.0" text-anchor="middle" font-weight="bold" fill="#111" stroke="#111" stroke-width="0.2" textLength="94.70" lengthAdjust="spacingAndGlyphs">Technofluor FRET assay</text>
<text transform="translate(7.00,280.60) scale(0.96,1)" font-size="6.6" text-anchor="start" font-weight="bold" fill="#111"  stroke="#111" stroke-width="0.18">Study ID</text>
<text transform="translate(188.00,280.60) scale(0.96,1)" font-size="6.6" text-anchor="end" font-weight="bold" fill="#111"  stroke="#111" stroke-width="0.18">Reference Standard Assay</text>
<text transform="translate(259.60,280.90) scale(0.96,1)" font-size="6.6" text-anchor="end" font-weight="bold" fill="#111"  stroke="#111" stroke-width="0.18">Positive Predictive</text>
<text transform="translate(259.60,288.70) scale(0.96,1)" font-size="6.6" text-anchor="end" font-weight="bold" fill="#111"  stroke="#111" stroke-width="0.18">Value (95% CI)</text>
<text transform="translate(426.40,280.90) scale(0.96,1)" font-size="6.6" text-anchor="end" font-weight="bold" fill="#111"  stroke="#111" stroke-width="0.18">Negative Predictive</text>
<text transform="translate(426.40,288.70) scale(0.96,1)" font-size="6.6" text-anchor="end" font-weight="bold" fill="#111"  stroke="#111" stroke-width="0.18">Value (95% CI)</text>
<text transform="translate(7.00,308.50) scale(0.935,1)" font-size="6.7" text-anchor="start" font-weight="normal" fill="#3a3a3a" >Fretwell, 2024</text>
<text transform="translate(188.00,308.50) scale(0.935,1)" font-size="6.7" text-anchor="end" font-weight="normal" fill="#3a3a3a"  textLength="54.65" lengthAdjust="spacingAndGlyphs">commercial ELISA</text>
<text transform="translate(259.60,308.50) scale(0.935,1)" font-size="6.7" text-anchor="end" font-weight="normal" fill="#3a3a3a" >0.98 (0.91, 1)</text>
<text transform="translate(426.40,308.50) scale(0.935,1)" font-size="6.7" text-anchor="end" font-weight="normal" fill="#3a3a3a" >0.96 (0.9, 0.99)</text>
<text transform="translate(7.00,333.10) scale(0.935,1)" font-size="6.7" text-anchor="start" font-weight="normal" fill="#3a3a3a" >Foxton, 2022</text>
<text transform="translate(188.00,333.10) scale(0.935,1)" font-size="6.7" text-anchor="end" font-weight="normal" fill="#3a3a3a"  textLength="104.06" lengthAdjust="spacingAndGlyphs">commercial ELISA (TECHNOZYM)</text>
<text transform="translate(259.60,333.10) scale(0.935,1)" font-size="6.7" text-anchor="end" font-weight="normal" fill="#3a3a3a" >0.85 (0.62, 0.97)</text>
<text transform="translate(426.40,333.10) scale(0.935,1)" font-size="6.7" text-anchor="end" font-weight="normal" fill="#3a3a3a" >0.97 (0.91, 0.99)</text>
<text transform="translate(7.00,357.70) scale(0.935,1)" font-size="6.7" text-anchor="start" font-weight="normal" fill="#3a3a3a" >Irsara, 2023</text>
<text transform="translate(188.00,357.70) scale(0.935,1)" font-size="6.7" text-anchor="end" font-weight="normal" fill="#3a3a3a"  textLength="57.97" lengthAdjust="spacingAndGlyphs">ACTIFLUOR FRETS</text>
<text transform="translate(259.60,357.70) scale(0.935,1)" font-size="6.7" text-anchor="end" font-weight="normal" fill="#3a3a3a" >0.97 (0.77, 1)</text>
<text transform="translate(426.40,357.70) scale(0.935,1)" font-size="6.7" text-anchor="end" font-weight="normal" fill="#3a3a3a" >0.98 (0.83, 1)</text>
<text transform="translate(7.00,382.30) scale(0.935,1)" font-size="6.7" text-anchor="start" font-weight="normal" fill="#3a3a3a" >Singh, 2023</text>
<text transform="translate(188.00,382.30) scale(0.935,1)" font-size="6.7" text-anchor="end" font-weight="normal" fill="#3a3a3a"  textLength="90.05" lengthAdjust="spacingAndGlyphs">in-house FRETS-VWF73 assay</text>
<text transform="translate(259.60,382.30) scale(0.935,1)" font-size="6.7" text-anchor="end" font-weight="normal" fill="#3a3a3a" >0.95 (0.66, 1)</text>
<text transform="translate(426.40,382.30) scale(0.935,1)" font-size="6.7" text-anchor="end" font-weight="normal" fill="#3a3a3a" >0.94 (0.63, 1)</text>
<text transform="translate(7.00,406.90) scale(0.935,1)" font-size="6.7" text-anchor="start" font-weight="normal" fill="#3a3a3a" >Singh, 2023</text>
<text transform="translate(188.00,406.90) scale(0.935,1)" font-size="6.7" text-anchor="end" font-weight="normal" fill="#3a3a3a"  textLength="104.06" lengthAdjust="spacingAndGlyphs">commercial ELISA (TECHNOZYM)</text>
<text transform="translate(259.60,406.90) scale(0.935,1)" font-size="6.7" text-anchor="end" font-weight="normal" fill="#3a3a3a" >0.95 (0.66, 1)</text>
<text transform="translate(426.40,406.90) scale(0.935,1)" font-size="6.7" text-anchor="end" font-weight="normal" fill="#3a3a3a" >0.88 (0.47, 1)</text>
<text transform="translate(7.00,431.50) scale(0.972,1)" font-size="6.7" text-anchor="start" font-weight="normal" fill="#3a3a3a" >Overall [I<tspan font-size="4.02" dy="-2.4">2</tspan><tspan dy="2.4"> = 0, </tspan><tspan font-style="italic">P</tspan> = .44]</text>
<text transform="translate(188.00,431.50) scale(0.935,1)" font-size="6.7" text-anchor="end" font-weight="normal" fill="#3a3a3a" >-</text>
<text transform="translate(259.60,431.50) scale(0.935,1)" font-size="6.7" text-anchor="end" font-weight="normal" fill="#3a3a3a" >0.97 (0.85, 1)</text>
<text transform="translate(426.40,431.50) scale(0.935,1)" font-size="6.7" text-anchor="end" font-weight="normal" fill="#3a3a3a" >0.96 (0.93, 0.98)</text>
<text transform="translate(426.40,444.20) scale(0.972,1)" font-size="6.7" text-anchor="end" font-weight="normal" fill="#3a3a3a" >Overall [I<tspan font-size="4.02" dy="-2.4">2</tspan><tspan dy="2.4"> = 0, </tspan><tspan font-style="italic">P</tspan> = .85]</text>
<line x1="341.60" y1="292.00" x2="341.60" y2="441.60" stroke="#c6c6c6" stroke-width="0.8"/>
<line x1="326.19" y1="306.50" x2="341.30" y2="306.50" stroke="#c8607a" stroke-width="1.0"/>
<rect x="335.74" y="304.40" width="4.40" height="4.40" fill="#b8102f" stroke="#6e0a22" stroke-width="0.5"/>
<line x1="277.50" y1="331.50" x2="336.26" y2="331.50" stroke="#c8607a" stroke-width="1.0"/>
<rect x="315.12" y="330.20" width="2.00" height="2.00" fill="#b8102f" stroke="#6e0a22" stroke-width="0.5"/>
<line x1="302.68" y1="355.50" x2="341.30" y2="355.50" stroke="#c8607a" stroke-width="1.0"/>
<rect x="335.01" y="354.55" width="2.50" height="2.50" fill="#b8102f" stroke="#6e0a22" stroke-width="0.5"/>
<line x1="284.21" y1="380.50" x2="341.30" y2="380.50" stroke="#c8607a" stroke-width="1.0"/>
<rect x="331.76" y="379.25" width="2.30" height="2.30" fill="#b8102f" stroke="#6e0a22" stroke-width="0.5"/>
<line x1="284.21" y1="404.50" x2="341.30" y2="404.50" stroke="#c8607a" stroke-width="1.0"/>
<rect x="331.76" y="403.85" width="2.30" height="2.30" fill="#b8102f" stroke="#6e0a22" stroke-width="0.5"/>
<line x1="316.12" y1="429.50" x2="341.30" y2="429.50" stroke="#c8607a" stroke-width="1.0"/>
<rect x="334.86" y="428.20" width="2.80" height="2.80" fill="#b8102f" stroke="#6e0a22" stroke-width="0.5"/>
<line x1="508.30" y1="293.30" x2="508.30" y2="441.60" stroke="#c6c6c6" stroke-width="0.8"/>
<line x1="496.27" y1="306.50" x2="506.92" y2="306.50" stroke="#c8607a" stroke-width="1.0"/>
<rect x="502.02" y="305.25" width="2.70" height="2.70" fill="#b8102f" stroke="#6e0a22" stroke-width="0.5"/>
<line x1="497.45" y1="331.50" x2="506.92" y2="331.50" stroke="#c8607a" stroke-width="1.0"/>
<rect x="503.10" y="329.75" width="2.90" height="2.90" fill="#b8102f" stroke="#6e0a22" stroke-width="0.5"/>
<line x1="487.99" y1="355.50" x2="508.10" y2="355.50" stroke="#c8607a" stroke-width="1.0"/>
<rect x="504.58" y="354.65" width="2.30" height="2.30" fill="#b8102f" stroke="#6e0a22" stroke-width="0.5"/>
<line x1="464.33" y1="380.50" x2="508.10" y2="380.50" stroke="#c8607a" stroke-width="1.0"/>
<rect x="500.15" y="379.55" width="1.70" height="1.70" fill="#b8102f" stroke="#6e0a22" stroke-width="0.5"/>
<line x1="445.40" y1="404.50" x2="508.10" y2="404.50" stroke="#c8607a" stroke-width="1.0"/>
<rect x="493.15" y="404.25" width="1.50" height="1.50" fill="#b8102f" stroke="#6e0a22" stroke-width="0.5"/>
<line x1="499.82" y1="429.50" x2="505.73" y2="429.50" stroke="#c8607a" stroke-width="1.0"/>
<rect x="501.37" y="427.60" width="4.00" height="4.00" fill="#b8102f" stroke="#6e0a22" stroke-width="0.5"/>
<line x1="275.20" y1="441.60" x2="344.90" y2="441.60" stroke="#1a1a1a" stroke-width="1"/>
<line x1="277.80" y1="441.60" x2="277.80" y2="444.30" stroke="#1a1a1a" stroke-width="0.95"/>
<line x1="282.02" y1="441.60" x2="282.02" y2="444.30" stroke="#1a1a1a" stroke-width="0.95"/>
<line x1="286.24" y1="441.60" x2="286.24" y2="444.30" stroke="#1a1a1a" stroke-width="0.95"/>
<line x1="290.46" y1="441.60" x2="290.46" y2="444.30" stroke="#1a1a1a" stroke-width="0.95"/>
<line x1="294.68" y1="441.60" x2="294.68" y2="444.30" stroke="#1a1a1a" stroke-width="0.95"/>
<line x1="298.90" y1="441.60" x2="298.90" y2="444.30" stroke="#1a1a1a" stroke-width="0.95"/>
<line x1="303.12" y1="441.60" x2="303.12" y2="444.30" stroke="#1a1a1a" stroke-width="0.95"/>
<line x1="307.34" y1="441.60" x2="307.34" y2="444.30" stroke="#1a1a1a" stroke-width="0.95"/>
<line x1="311.56" y1="441.60" x2="311.56" y2="444.30" stroke="#1a1a1a" stroke-width="0.95"/>
<line x1="315.78" y1="441.60" x2="315.78" y2="444.30" stroke="#1a1a1a" stroke-width="0.95"/>
<line x1="320.00" y1="441.60" x2="320.00" y2="444.30" stroke="#1a1a1a" stroke-width="0.95"/>
<line x1="324.22" y1="441.60" x2="324.22" y2="444.30" stroke="#1a1a1a" stroke-width="0.95"/>
<line x1="328.44" y1="441.60" x2="328.44" y2="444.30" stroke="#1a1a1a" stroke-width="0.95"/>
<line x1="332.66" y1="441.60" x2="332.66" y2="444.30" stroke="#1a1a1a" stroke-width="0.95"/>
<line x1="336.88" y1="441.60" x2="336.88" y2="444.30" stroke="#1a1a1a" stroke-width="0.95"/>
<line x1="341.10" y1="441.60" x2="341.10" y2="444.30" stroke="#1a1a1a" stroke-width="0.95"/>
<text transform="translate(280.88,447.80) rotate(-90) scale(1,1.0)" font-size="6.6" text-anchor="end" fill="#2a2a2a" stroke="#2a2a2a" stroke-width="0.08">0.625</text>
<text transform="translate(289.26,447.80) rotate(-90) scale(1,1.0)" font-size="6.6" text-anchor="end" fill="#2a2a2a" stroke="#2a2a2a" stroke-width="0.08">0.675</text>
<text transform="translate(297.65,447.80) rotate(-90) scale(1,1.0)" font-size="6.6" text-anchor="end" fill="#2a2a2a" stroke="#2a2a2a" stroke-width="0.08">0.725</text>
<text transform="translate(306.03,447.80) rotate(-90) scale(1,1.0)" font-size="6.6" text-anchor="end" fill="#2a2a2a" stroke="#2a2a2a" stroke-width="0.08">0.775</text>
<text transform="translate(314.42,447.80) rotate(-90) scale(1,1.0)" font-size="6.6" text-anchor="end" fill="#2a2a2a" stroke="#2a2a2a" stroke-width="0.08">0.825</text>
<text transform="translate(322.80,447.80) rotate(-90) scale(1,1.0)" font-size="6.6" text-anchor="end" fill="#2a2a2a" stroke="#2a2a2a" stroke-width="0.08">0.875</text>
<text transform="translate(331.19,447.80) rotate(-90) scale(1,1.0)" font-size="6.6" text-anchor="end" fill="#2a2a2a" stroke="#2a2a2a" stroke-width="0.08">0.925</text>
<text transform="translate(339.58,447.80) rotate(-90) scale(1,1.0)" font-size="6.6" text-anchor="end" fill="#2a2a2a" stroke="#2a2a2a" stroke-width="0.08">0.975</text>
<line x1="442.30" y1="441.60" x2="511.50" y2="441.60" stroke="#1a1a1a" stroke-width="1"/>
<line x1="443.20" y1="441.60" x2="443.20" y2="444.30" stroke="#1a1a1a" stroke-width="0.95"/>
<line x1="445.54" y1="441.60" x2="445.54" y2="444.30" stroke="#1a1a1a" stroke-width="0.95"/>
<line x1="447.89" y1="441.60" x2="447.89" y2="444.30" stroke="#1a1a1a" stroke-width="0.95"/>
<line x1="450.23" y1="441.60" x2="450.23" y2="444.30" stroke="#1a1a1a" stroke-width="0.95"/>
<line x1="452.57" y1="441.60" x2="452.57" y2="444.30" stroke="#1a1a1a" stroke-width="0.95"/>
<line x1="454.92" y1="441.60" x2="454.92" y2="444.30" stroke="#1a1a1a" stroke-width="0.95"/>
<line x1="457.26" y1="441.60" x2="457.26" y2="444.30" stroke="#1a1a1a" stroke-width="0.95"/>
<line x1="459.60" y1="441.60" x2="459.60" y2="444.30" stroke="#1a1a1a" stroke-width="0.95"/>
<line x1="461.94" y1="441.60" x2="461.94" y2="444.30" stroke="#1a1a1a" stroke-width="0.95"/>
<line x1="464.29" y1="441.60" x2="464.29" y2="444.30" stroke="#1a1a1a" stroke-width="0.95"/>
<line x1="466.63" y1="441.60" x2="466.63" y2="444.30" stroke="#1a1a1a" stroke-width="0.95"/>
<line x1="468.97" y1="441.60" x2="468.97" y2="444.30" stroke="#1a1a1a" stroke-width="0.95"/>
<line x1="471.32" y1="441.60" x2="471.32" y2="444.30" stroke="#1a1a1a" stroke-width="0.95"/>
<line x1="473.66" y1="441.60" x2="473.66" y2="444.30" stroke="#1a1a1a" stroke-width="0.95"/>
<line x1="476.00" y1="441.60" x2="476.00" y2="444.30" stroke="#1a1a1a" stroke-width="0.95"/>
<line x1="478.35" y1="441.60" x2="478.35" y2="444.30" stroke="#1a1a1a" stroke-width="0.95"/>
<line x1="480.69" y1="441.60" x2="480.69" y2="444.30" stroke="#1a1a1a" stroke-width="0.95"/>
<line x1="483.03" y1="441.60" x2="483.03" y2="444.30" stroke="#1a1a1a" stroke-width="0.95"/>
<line x1="485.37" y1="441.60" x2="485.37" y2="444.30" stroke="#1a1a1a" stroke-width="0.95"/>
<line x1="487.72" y1="441.60" x2="487.72" y2="444.30" stroke="#1a1a1a" stroke-width="0.95"/>
<line x1="490.06" y1="441.60" x2="490.06" y2="444.30" stroke="#1a1a1a" stroke-width="0.95"/>
<line x1="492.40" y1="441.60" x2="492.40" y2="444.30" stroke="#1a1a1a" stroke-width="0.95"/>
<line x1="494.75" y1="441.60" x2="494.75" y2="444.30" stroke="#1a1a1a" stroke-width="0.95"/>
<line x1="497.09" y1="441.60" x2="497.09" y2="444.30" stroke="#1a1a1a" stroke-width="0.95"/>
<line x1="499.43" y1="441.60" x2="499.43" y2="444.30" stroke="#1a1a1a" stroke-width="0.95"/>
<line x1="501.78" y1="441.60" x2="501.78" y2="444.30" stroke="#1a1a1a" stroke-width="0.95"/>
<line x1="504.12" y1="441.60" x2="504.12" y2="444.30" stroke="#1a1a1a" stroke-width="0.95"/>
<line x1="506.46" y1="441.60" x2="506.46" y2="444.30" stroke="#1a1a1a" stroke-width="0.95"/>
<line x1="508.80" y1="441.60" x2="508.80" y2="444.30" stroke="#1a1a1a" stroke-width="0.95"/>
<text transform="translate(446.98,447.80) rotate(-90) scale(1,1.0)" font-size="6.6" text-anchor="end" fill="#2a2a2a" stroke="#2a2a2a" stroke-width="0.08">0.475</text>
<text transform="translate(453.24,447.80) rotate(-90) scale(1,1.0)" font-size="6.6" text-anchor="end" fill="#2a2a2a" stroke="#2a2a2a" stroke-width="0.08">0.55</text>
<text transform="translate(459.50,447.80) rotate(-90) scale(1,1.0)" font-size="6.6" text-anchor="end" fill="#2a2a2a" stroke="#2a2a2a" stroke-width="0.08">0.6</text>
<text transform="translate(465.76,447.80) rotate(-90) scale(1,1.0)" font-size="6.6" text-anchor="end" fill="#2a2a2a" stroke="#2a2a2a" stroke-width="0.08">0.65</text>
<text transform="translate(472.02,447.80) rotate(-90) scale(1,1.0)" font-size="6.6" text-anchor="end" fill="#2a2a2a" stroke="#2a2a2a" stroke-width="0.08">0.7</text>
<text transform="translate(478.28,447.80) rotate(-90) scale(1,1.0)" font-size="6.6" text-anchor="end" fill="#2a2a2a" stroke="#2a2a2a" stroke-width="0.08">0.75</text>
<text transform="translate(484.54,447.80) rotate(-90) scale(1,1.0)" font-size="6.6" text-anchor="end" fill="#2a2a2a" stroke="#2a2a2a" stroke-width="0.08">0.8</text>
<text transform="translate(490.80,447.80) rotate(-90) scale(1,1.0)" font-size="6.6" text-anchor="end" fill="#2a2a2a" stroke="#2a2a2a" stroke-width="0.08">0.85</text>
<text transform="translate(497.06,447.80) rotate(-90) scale(1,1.0)" font-size="6.6" text-anchor="end" fill="#2a2a2a" stroke="#2a2a2a" stroke-width="0.08">0.9</text>
<text transform="translate(503.32,447.80) rotate(-90) scale(1,1.0)" font-size="6.6" text-anchor="end" fill="#2a2a2a" stroke="#2a2a2a" stroke-width="0.08">0.95</text>
<text transform="translate(509.58,447.80) rotate(-90) scale(1,1.0)" font-size="6.6" text-anchor="end" fill="#2a2a2a" stroke="#2a2a2a" stroke-width="0.08">1</text>
<text transform="translate(6.70,488.70) scale(1.12,1)" font-size="10.6" text-anchor="start" font-weight="bold" fill="#111" stroke="#111" stroke-width="0.45">C</text>
<text transform="translate(260.00,489.20) scale(1.0,1)" font-size="9.0" text-anchor="middle" font-weight="bold" fill="#111" stroke="#111" stroke-width="0.2" textLength="78.10" lengthAdjust="spacingAndGlyphs">Technoscreen assay</text>
<text transform="translate(7.00,505.80) scale(0.96,1)" font-size="6.6" text-anchor="start" font-weight="bold" fill="#111"  stroke="#111" stroke-width="0.18">Study ID</text>
<text transform="translate(188.00,505.80) scale(0.96,1)" font-size="6.6" text-anchor="end" font-weight="bold" fill="#111"  stroke="#111" stroke-width="0.18">Reference Standard Assay</text>
<text transform="translate(259.60,506.10) scale(0.96,1)" font-size="6.6" text-anchor="end" font-weight="bold" fill="#111"  stroke="#111" stroke-width="0.18">Positive Predictive</text>
<text transform="translate(259.60,513.90) scale(0.96,1)" font-size="6.6" text-anchor="end" font-weight="bold" fill="#111"  stroke="#111" stroke-width="0.18">Value (95% CI)</text>
<text transform="translate(426.40,506.10) scale(0.96,1)" font-size="6.6" text-anchor="end" font-weight="bold" fill="#111"  stroke="#111" stroke-width="0.18">Negative Predictive</text>
<text transform="translate(426.40,513.90) scale(0.96,1)" font-size="6.6" text-anchor="end" font-weight="bold" fill="#111"  stroke="#111" stroke-width="0.18">Value (95% CI)</text>
<text transform="translate(7.00,533.80) scale(0.935,1)" font-size="6.7" text-anchor="start" font-weight="normal" fill="#3a3a3a" >Braf, 2019</text>
<text transform="translate(188.00,533.80) scale(0.935,1)" font-size="6.7" text-anchor="end" font-weight="normal" fill="#3a3a3a"  textLength="104.06" lengthAdjust="spacingAndGlyphs">commercial ELISA (TECHNOZYM)</text>
<text transform="translate(259.60,533.80) scale(0.935,1)" font-size="6.7" text-anchor="end" font-weight="normal" fill="#3a3a3a" >0.55 (0.32, 0.77)</text>
<text transform="translate(426.40,533.80) scale(0.935,1)" font-size="6.7" text-anchor="end" font-weight="normal" fill="#3a3a3a" >0.98 (0.85, 1)</text>
<text transform="translate(7.00,561.50) scale(0.935,1)" font-size="6.7" text-anchor="start" font-weight="normal" fill="#3a3a3a" >Moore, 2020</text>
<text transform="translate(188.00,561.50) scale(0.935,1)" font-size="6.7" text-anchor="end" font-weight="normal" fill="#3a3a3a"  textLength="104.06" lengthAdjust="spacingAndGlyphs">commercial ELISA (TECHNOZYM)</text>
<text transform="translate(259.60,561.50) scale(0.935,1)" font-size="6.7" text-anchor="end" font-weight="normal" fill="#3a3a3a" >0.79 (0.65, 0.9)</text>
<text transform="translate(426.40,561.50) scale(0.935,1)" font-size="6.7" text-anchor="end" font-weight="normal" fill="#3a3a3a" >0.95 (0.9, 0.98)</text>
<text transform="translate(7.00,589.20) scale(0.935,1)" font-size="6.7" text-anchor="start" font-weight="normal" fill="#3a3a3a" >Stephenson, 2023</text>
<text transform="translate(188.00,589.20) scale(0.935,1)" font-size="6.7" text-anchor="end" font-weight="normal" fill="#3a3a3a"  textLength="104.06" lengthAdjust="spacingAndGlyphs">commercial ELISA (TECHNOZYM)</text>
<text transform="translate(259.60,589.20) scale(0.935,1)" font-size="6.7" text-anchor="end" font-weight="normal" fill="#3a3a3a" >0.77 (0.56, 0.91)</text>
<text transform="translate(426.40,589.20) scale(0.935,1)" font-size="6.7" text-anchor="end" font-weight="normal" fill="#3a3a3a" >0.99 (0.93, 1)</text>
<text transform="translate(7.00,616.90) scale(0.935,1)" font-size="6.7" text-anchor="start" font-weight="normal" fill="#3a3a3a" >Moore, 2020</text>
<text transform="translate(188.00,616.90) scale(0.935,1)" font-size="6.7" text-anchor="end" font-weight="normal" fill="#3a3a3a"  textLength="90.05" lengthAdjust="spacingAndGlyphs">in-house FRETS-VWF73 assay</text>
<text transform="translate(259.60,616.90) scale(0.935,1)" font-size="6.7" text-anchor="end" font-weight="normal" fill="#3a3a3a" >0.6 (0.32, 0.84)</text>
<text transform="translate(426.40,616.90) scale(0.935,1)" font-size="6.7" text-anchor="end" font-weight="normal" fill="#3a3a3a" >0.98 (0.88, 1)</text>
<text transform="translate(7.00,644.60) scale(0.972,1)" font-size="6.7" text-anchor="start" font-weight="normal" fill="#3a3a3a" >Overall [I<tspan font-size="4.02" dy="-2.4">2</tspan><tspan dy="2.4"> = 0.43, </tspan><tspan font-style="italic">P</tspan> = .16]</text>
<text transform="translate(188.00,644.60) scale(0.935,1)" font-size="6.7" text-anchor="end" font-weight="normal" fill="#3a3a3a" >-</text>
<text transform="translate(259.60,644.60) scale(0.935,1)" font-size="6.7" text-anchor="end" font-weight="normal" fill="#3a3a3a" >0.71 (0.59, 0.8)</text>
<text transform="translate(426.40,644.60) scale(0.935,1)" font-size="6.7" text-anchor="end" font-weight="normal" fill="#3a3a3a" >0.99 (0.72, 1)</text>
<text transform="translate(426.40,657.90) scale(0.972,1)" font-size="6.7" text-anchor="end" font-weight="normal" fill="#3a3a3a" >Overall [I<tspan font-size="4.02" dy="-2.4">2</tspan><tspan dy="2.4"> = 0, </tspan><tspan font-style="italic">P</tspan> = 1]</text>
<line x1="341.60" y1="516.00" x2="341.60" y2="657.10" stroke="#c6c6c6" stroke-width="0.8"/>
<line x1="278.05" y1="532.50" x2="320.30" y2="532.50" stroke="#c8607a" stroke-width="1.0"/>
<rect x="298.39" y="530.75" width="2.50" height="2.50" fill="#b8102f" stroke="#6e0a22" stroke-width="0.5"/>
<line x1="309.03" y1="559.50" x2="332.51" y2="559.50" stroke="#c8607a" stroke-width="1.0"/>
<rect x="320.23" y="557.75" width="3.90" height="3.90" fill="#b8102f" stroke="#6e0a22" stroke-width="0.5"/>
<line x1="300.58" y1="587.50" x2="333.45" y2="587.50" stroke="#c8607a" stroke-width="1.0"/>
<rect x="318.65" y="585.75" width="3.30" height="3.30" fill="#b8102f" stroke="#6e0a22" stroke-width="0.5"/>
<line x1="278.05" y1="615.50" x2="326.88" y2="615.50" stroke="#c8607a" stroke-width="1.0"/>
<rect x="303.04" y="613.80" width="2.60" height="2.60" fill="#b8102f" stroke="#6e0a22" stroke-width="0.5"/>
<line x1="303.40" y1="642.50" x2="323.12" y2="642.50" stroke="#c8607a" stroke-width="1.0"/>
<rect x="312.52" y="640.65" width="4.30" height="4.30" fill="#b8102f" stroke="#6e0a22" stroke-width="0.5"/>
<line x1="508.50" y1="518.00" x2="508.50" y2="657.10" stroke="#c6c6c6" stroke-width="0.8"/>
<line x1="474.45" y1="532.50" x2="509.00" y2="532.50" stroke="#c8607a" stroke-width="1.0"/>
<rect x="503.04" y="530.65" width="2.70" height="2.70" fill="#b8102f" stroke="#6e0a22" stroke-width="0.5"/>
<line x1="485.97" y1="559.50" x2="504.39" y2="559.50" stroke="#c8607a" stroke-width="1.0"/>
<rect x="495.84" y="558.05" width="3.30" height="3.30" fill="#b8102f" stroke="#6e0a22" stroke-width="0.5"/>
<line x1="492.88" y1="587.50" x2="509.00" y2="587.50" stroke="#c8607a" stroke-width="1.0"/>
<rect x="504.80" y="585.50" width="3.80" height="3.80" fill="#b8102f" stroke="#6e0a22" stroke-width="0.5"/>
<line x1="481.36" y1="615.50" x2="509.00" y2="615.50" stroke="#c8607a" stroke-width="1.0"/>
<rect x="502.99" y="613.70" width="2.80" height="2.80" fill="#b8102f" stroke="#6e0a22" stroke-width="0.5"/>
<line x1="444.52" y1="642.50" x2="509.00" y2="642.50" stroke="#c8607a" stroke-width="1.0"/>
<rect x="505.95" y="642.05" width="1.50" height="1.50" fill="#b8102f" stroke="#6e0a22" stroke-width="0.5"/>
<line x1="275.20" y1="657.00" x2="345.00" y2="657.00" stroke="#1a1a1a" stroke-width="1"/>
<line x1="278.20" y1="657.00" x2="278.20" y2="659.70" stroke="#1a1a1a" stroke-width="0.95"/>
<line x1="280.52" y1="657.00" x2="280.52" y2="659.70" stroke="#1a1a1a" stroke-width="0.95"/>
<line x1="282.84" y1="657.00" x2="282.84" y2="659.70" stroke="#1a1a1a" stroke-width="0.95"/>
<line x1="285.16" y1="657.00" x2="285.16" y2="659.70" stroke="#1a1a1a" stroke-width="0.95"/>
<line x1="287.48" y1="657.00" x2="287.48" y2="659.70" stroke="#1a1a1a" stroke-width="0.95"/>
<line x1="289.80" y1="657.00" x2="289.80" y2="659.70" stroke="#1a1a1a" stroke-width="0.95"/>
<line x1="292.12" y1="657.00" x2="292.12" y2="659.70" stroke="#1a1a1a" stroke-width="0.95"/>
<line x1="294.44" y1="657.00" x2="294.44" y2="659.70" stroke="#1a1a1a" stroke-width="0.95"/>
<line x1="296.76" y1="657.00" x2="296.76" y2="659.70" stroke="#1a1a1a" stroke-width="0.95"/>
<line x1="299.08" y1="657.00" x2="299.08" y2="659.70" stroke="#1a1a1a" stroke-width="0.95"/>
<line x1="301.40" y1="657.00" x2="301.40" y2="659.70" stroke="#1a1a1a" stroke-width="0.95"/>
<line x1="303.72" y1="657.00" x2="303.72" y2="659.70" stroke="#1a1a1a" stroke-width="0.95"/>
<line x1="306.04" y1="657.00" x2="306.04" y2="659.70" stroke="#1a1a1a" stroke-width="0.95"/>
<line x1="308.36" y1="657.00" x2="308.36" y2="659.70" stroke="#1a1a1a" stroke-width="0.95"/>
<line x1="310.68" y1="657.00" x2="310.68" y2="659.70" stroke="#1a1a1a" stroke-width="0.95"/>
<line x1="313.00" y1="657.00" x2="313.00" y2="659.70" stroke="#1a1a1a" stroke-width="0.95"/>
<line x1="315.32" y1="657.00" x2="315.32" y2="659.70" stroke="#1a1a1a" stroke-width="0.95"/>
<line x1="317.64" y1="657.00" x2="317.64" y2="659.70" stroke="#1a1a1a" stroke-width="0.95"/>
<line x1="319.96" y1="657.00" x2="319.96" y2="659.70" stroke="#1a1a1a" stroke-width="0.95"/>
<line x1="322.28" y1="657.00" x2="322.28" y2="659.70" stroke="#1a1a1a" stroke-width="0.95"/>
<line x1="324.60" y1="657.00" x2="324.60" y2="659.70" stroke="#1a1a1a" stroke-width="0.95"/>
<line x1="326.92" y1="657.00" x2="326.92" y2="659.70" stroke="#1a1a1a" stroke-width="0.95"/>
<line x1="329.24" y1="657.00" x2="329.24" y2="659.70" stroke="#1a1a1a" stroke-width="0.95"/>
<line x1="331.56" y1="657.00" x2="331.56" y2="659.70" stroke="#1a1a1a" stroke-width="0.95"/>
<line x1="333.88" y1="657.00" x2="333.88" y2="659.70" stroke="#1a1a1a" stroke-width="0.95"/>
<line x1="336.20" y1="657.00" x2="336.20" y2="659.70" stroke="#1a1a1a" stroke-width="0.95"/>
<line x1="338.52" y1="657.00" x2="338.52" y2="659.70" stroke="#1a1a1a" stroke-width="0.95"/>
<line x1="340.84" y1="657.00" x2="340.84" y2="659.70" stroke="#1a1a1a" stroke-width="0.95"/>
<line x1="343.16" y1="657.00" x2="343.16" y2="659.70" stroke="#1a1a1a" stroke-width="0.95"/>
<text transform="translate(280.88,662.90) rotate(-90) scale(1,1.0)" font-size="6.6" text-anchor="end" fill="#2a2a2a" stroke="#2a2a2a" stroke-width="0.08">0.325</text>
<text transform="translate(287.83,662.90) rotate(-90) scale(1,1.0)" font-size="6.6" text-anchor="end" fill="#2a2a2a" stroke="#2a2a2a" stroke-width="0.08">0.4</text>
<text transform="translate(294.79,662.90) rotate(-90) scale(1,1.0)" font-size="6.6" text-anchor="end" fill="#2a2a2a" stroke="#2a2a2a" stroke-width="0.08">0.475</text>
<text transform="translate(301.74,662.90) rotate(-90) scale(1,1.0)" font-size="6.6" text-anchor="end" fill="#2a2a2a" stroke="#2a2a2a" stroke-width="0.08">0.55</text>
<text transform="translate(308.70,662.90) rotate(-90) scale(1,1.0)" font-size="6.6" text-anchor="end" fill="#2a2a2a" stroke="#2a2a2a" stroke-width="0.08">0.625</text>
<text transform="translate(315.65,662.90) rotate(-90) scale(1,1.0)" font-size="6.6" text-anchor="end" fill="#2a2a2a" stroke="#2a2a2a" stroke-width="0.08">0.7</text>
<text transform="translate(322.61,662.90) rotate(-90) scale(1,1.0)" font-size="6.6" text-anchor="end" fill="#2a2a2a" stroke="#2a2a2a" stroke-width="0.08">0.775</text>
<text transform="translate(329.56,662.90) rotate(-90) scale(1,1.0)" font-size="6.6" text-anchor="end" fill="#2a2a2a" stroke="#2a2a2a" stroke-width="0.08">0.85</text>
<text transform="translate(336.52,662.90) rotate(-90) scale(1,1.0)" font-size="6.6" text-anchor="end" fill="#2a2a2a" stroke="#2a2a2a" stroke-width="0.08">0.925</text>
<text transform="translate(343.48,662.90) rotate(-90) scale(1,1.0)" font-size="6.6" text-anchor="end" fill="#2a2a2a" stroke="#2a2a2a" stroke-width="0.08">1</text>
<line x1="442.30" y1="657.00" x2="511.50" y2="657.00" stroke="#1a1a1a" stroke-width="1"/>
<line x1="444.20" y1="657.00" x2="444.20" y2="659.70" stroke="#1a1a1a" stroke-width="0.95"/>
<line x1="449.95" y1="657.00" x2="449.95" y2="659.70" stroke="#1a1a1a" stroke-width="0.95"/>
<line x1="455.70" y1="657.00" x2="455.70" y2="659.70" stroke="#1a1a1a" stroke-width="0.95"/>
<line x1="461.45" y1="657.00" x2="461.45" y2="659.70" stroke="#1a1a1a" stroke-width="0.95"/>
<line x1="467.20" y1="657.00" x2="467.20" y2="659.70" stroke="#1a1a1a" stroke-width="0.95"/>
<line x1="472.95" y1="657.00" x2="472.95" y2="659.70" stroke="#1a1a1a" stroke-width="0.95"/>
<line x1="478.70" y1="657.00" x2="478.70" y2="659.70" stroke="#1a1a1a" stroke-width="0.95"/>
<line x1="484.45" y1="657.00" x2="484.45" y2="659.70" stroke="#1a1a1a" stroke-width="0.95"/>
<line x1="490.20" y1="657.00" x2="490.20" y2="659.70" stroke="#1a1a1a" stroke-width="0.95"/>
<line x1="495.95" y1="657.00" x2="495.95" y2="659.70" stroke="#1a1a1a" stroke-width="0.95"/>
<line x1="501.70" y1="657.00" x2="501.70" y2="659.70" stroke="#1a1a1a" stroke-width="0.95"/>
<line x1="507.45" y1="657.00" x2="507.45" y2="659.70" stroke="#1a1a1a" stroke-width="0.95"/>
<text transform="translate(447.28,662.90) rotate(-90) scale(1,1.0)" font-size="6.6" text-anchor="end" fill="#2a2a2a" stroke="#2a2a2a" stroke-width="0.08">0.725</text>
<text transform="translate(458.58,662.90) rotate(-90) scale(1,1.0)" font-size="6.6" text-anchor="end" fill="#2a2a2a" stroke="#2a2a2a" stroke-width="0.08">0.775</text>
<text transform="translate(469.58,662.90) rotate(-90) scale(1,1.0)" font-size="6.6" text-anchor="end" fill="#2a2a2a" stroke="#2a2a2a" stroke-width="0.08">0.825</text>
<text transform="translate(481.18,662.90) rotate(-90) scale(1,1.0)" font-size="6.6" text-anchor="end" fill="#2a2a2a" stroke="#2a2a2a" stroke-width="0.08">0.875</text>
<text transform="translate(492.68,662.90) rotate(-90) scale(1,1.0)" font-size="6.6" text-anchor="end" fill="#2a2a2a" stroke="#2a2a2a" stroke-width="0.08">0.925</text>
<text transform="translate(503.78,662.90) rotate(-90) scale(1,1.0)" font-size="6.6" text-anchor="end" fill="#2a2a2a" stroke="#2a2a2a" stroke-width="0.08">0.975</text>
<text transform="translate(510.38,662.90) rotate(-90) scale(1,1.0)" font-size="6.6" text-anchor="end" fill="#2a2a2a" stroke="#2a2a2a" stroke-width="0.08">1</text>
</svg>
</body></html>
